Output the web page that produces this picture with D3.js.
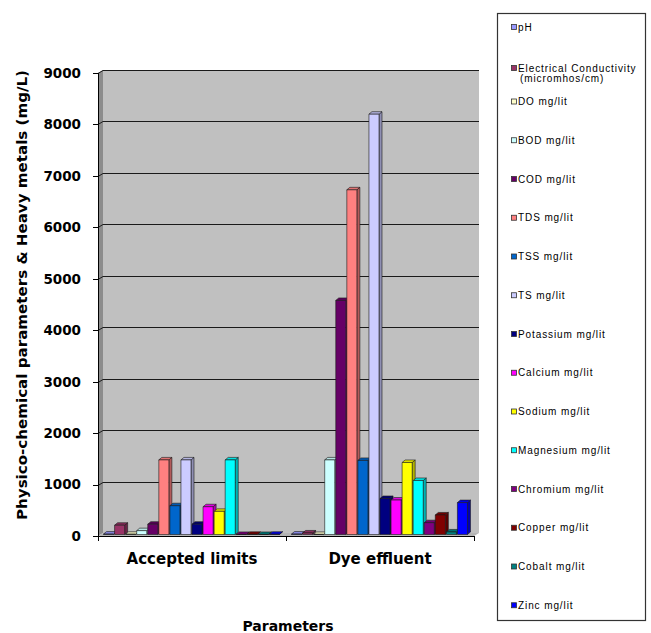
<!DOCTYPE html>
<html>
<head>
<meta charset="utf-8">
<script src="https://cdn.jsdelivr.net/npm/d3@7/dist/d3.min.js"></script>
<style>
  html, body { margin: 0; padding: 0; background: #ffffff; }
  svg { display: block; }
</style>
</head>
<body>
<svg id="chart" width="651" height="633"></svg>
<script>
// Categories on the x axis
const categories = ["Accepted limits", "Dye effluent"];

// One series per parameter (legend order = bar order inside a group)
const seriesNames = [
  "pH",
  "Electrical Conductivity\n(micromhos/cm)",
  "DO mg/lit",
  "BOD mg/lit",
  "COD mg/lit",
  "TDS mg/lit",
  "TSS mg/lit",
  "TS mg/lit",
  "Potassium mg/lit",
  "Calcium mg/lit",
  "Sodium mg/lit",
  "Magnesium mg/lit",
  "Chromium mg/lit",
  "Copper mg/lit",
  "Cobalt mg/lit",
  "Zinc mg/lit"
];

const seriesColors = [
  "#9999FF", "#993366", "#FFFFCC", "#CCFFFF", "#660066", "#FF8080",
  "#0066CC", "#CCCCFF", "#000080", "#FF00FF", "#FFFF00", "#00FFFF",
  "#800080", "#800000", "#008080", "#0000FF"
];

// Values per category, in series order
const acceptedValues = [8, 180, 5, 75, 200, 1450, 560, 1450, 200, 540, 450, 1450, 2, 3, 1, 5];
const effluentValues = [9, 30, 2, 1450, 4550, 6700, 1440, 8170, 700, 670, 1400, 1050, 230, 380, 50, 620];

const yTicks = [0, 1000, 2000, 3000, 4000, 5000, 6000, 7000, 8000, 9000];

const yTitle = "Physico-chemical parameters & Heavy metals (mg/L)";
const xTitle = "Parameters";

const svg = d3.select("#chart");

// ---- geometry of the 3-D box ----
const frontLeft = 98, frontRight = 474, frontBase = 536, frontTop = 73;
const depthX = 5, depthY = 3;       // offset of the back wall
const barDX = 3, barDY = 2.5;       // depth of each column

const y = d3.scaleLinear().domain([0, 9000]).range([frontBase, frontTop]);
const yBar = d3.scaleLinear().domain([0, 9000]).range([frontBase - 1.5, frontTop - 1.5]);

const x0 = d3.scaleBand().domain(categories).range([frontLeft, frontRight]).padding(0);
const x1 = d3.scaleBand().domain(d3.range(seriesNames.length))
  .range([0, x0.bandwidth()]).paddingInner(0).paddingOuter(0.5);

const wallTop = y(9000) - depthY;
const wallBottom = frontBase - depthY;

// back wall
svg.append("rect")
  .attr("x", frontLeft + depthX).attr("y", wallTop)
  .attr("width", frontRight - frontLeft).attr("height", wallBottom - wallTop)
  .attr("fill", "#C0C0C0");

// left side wall
svg.append("path")
  .attr("d", `M${frontLeft},${y(9000)} L${frontLeft + depthX},${wallTop} L${frontLeft + depthX},${wallBottom} L${frontLeft},${frontBase} Z`)
  .attr("fill", "#8C8C8C");

// floor
svg.append("path")
  .attr("d", `M${frontLeft},${frontBase} L${frontLeft + depthX},${wallBottom} L${frontRight + depthX},${wallBottom} L${frontRight},${frontBase} Z`)
  .attr("fill", "#B4B4B4");

// gridlines: back wall + side wall diagonal
const grid = svg.append("g").attr("stroke", "#1a1a1a").attr("stroke-width", 1).attr("fill", "none");
yTicks.forEach(t => {
  if (t === 0) return;
  const yf = Math.round(y(t)) + 0.5;
  grid.append("path")
    .attr("d", `M${frontLeft},${yf} L${frontLeft + depthX},${yf - depthY} L${frontRight + depthX},${yf - depthY}`);
});

// value axis line + ticks + labels
const yAxis = svg.append("g");
yAxis.append("line")
  .attr("x1", frontLeft + 0.5).attr("x2", frontLeft + 0.5)
  .attr("y1", y(9000)).attr("y2", frontBase)
  .attr("stroke", "#000").attr("stroke-width", 1);
yAxis.selectAll("line.tick").data(yTicks).join("line")
  .attr("class", "tick")
  .attr("x1", frontLeft - 5).attr("x2", frontLeft)
  .attr("y1", d => Math.round(y(d)) + 0.5).attr("y2", d => Math.round(y(d)) + 0.5)
  .attr("stroke", "#000");
yAxis.selectAll("text").data(yTicks).join("text")
  .attr("x", 81).attr("y", d => y(d))
  .attr("dy", "0.36em")
  .attr("text-anchor", "end")
  .attr("font-family", "DejaVu Sans")
  .attr("font-weight", "bold")
  .attr("font-size", "13.5px")
  .attr("fill", "#000")
  .text(d => d);

// ---- columns ----
const groups = [acceptedValues, effluentValues];
const barsG = svg.append("g");
categories.forEach((cat, ci) => {
  const vals = groups[ci];
  vals.forEach((v, si) => {
    const c = d3.color(seriesColors[si]);
    const xl = x0(cat) + x1(si);
    const w = x1.bandwidth() - 1;
    const yb = yBar(0), yt = yBar(v);
    const g = barsG.append("g")
      .attr("stroke", "#1a1a1a").attr("stroke-width", 0.6).attr("stroke-linejoin", "round");
    // right side face
    g.append("path")
      .attr("d", `M${xl + w},${yb} L${xl + w + barDX},${yb - barDY} L${xl + w + barDX},${yt - barDY} L${xl + w},${yt} Z`)
      .attr("fill", c.darker(1.0));
    // top face
    g.append("path")
      .attr("d", `M${xl},${yt} L${xl + barDX},${yt - barDY} L${xl + w + barDX},${yt - barDY} L${xl + w},${yt} Z`)
      .attr("fill", c.darker(0.35));
    // front face
    g.append("rect")
      .attr("x", xl).attr("y", yt)
      .attr("width", w).attr("height", Math.max(0, yb - yt))
      .attr("fill", c);
  });
});

// category axis
const xAxis = svg.append("g").attr("stroke", "#000");
xAxis.append("line")
  .attr("x1", frontLeft).attr("x2", frontRight)
  .attr("y1", frontBase + 0.5).attr("y2", frontBase + 0.5);
const catEdges = [x0(categories[0]), x0(categories[1]), x0(categories[1]) + x0.bandwidth()];
xAxis.selectAll("line.tick").data(catEdges).join("line")
  .attr("class", "tick")
  .attr("x1", d => d + 0.5).attr("x2", d => d + 0.5)
  .attr("y1", frontBase).attr("y2", frontBase + 5);

svg.append("g").selectAll("text").data(categories).join("text")
  .attr("x", d => x0(d) + x0.bandwidth() / 2)
  .attr("y", 564)
  .attr("text-anchor", "middle")
  .attr("font-family", "DejaVu Sans")
  .attr("font-weight", "bold")
  .attr("font-size", "15px")
  .attr("fill", "#000")
  .text(d => d);

// axis titles
svg.append("text")
  .attr("transform", `translate(27,295) rotate(-90)`)
  .attr("text-anchor", "middle")
  .attr("font-family", "DejaVu Sans")
  .attr("font-weight", "bold")
  .attr("font-size", "14px")
  .attr("textLength", 450)
  .attr("lengthAdjust", "spacingAndGlyphs")
  .attr("fill", "#000")
  .text(yTitle);

svg.append("text")
  .attr("x", 288).attr("y", 631)
  .attr("text-anchor", "middle")
  .attr("font-family", "DejaVu Sans")
  .attr("font-weight", "bold")
  .attr("font-size", "14px")
  .attr("fill", "#000")
  .text(xTitle);

// ---- legend ----
const legend = svg.append("g");
legend.append("rect")
  .attr("x", 497.5).attr("y", 13.5).attr("width", 148).attr("height", 607)
  .attr("fill", "#fff").attr("stroke", "#333").attr("stroke-width", 1.2);

const rowY = i => i === 0 ? 27 : (i === 1 ? 68 : 101.5 + (i - 2) * 38.75);
const items = legend.selectAll("g.item").data(seriesNames).join("g")
  .attr("class", "item")
  .attr("transform", (d, i) => `translate(0,${rowY(i)})`);
items.append("rect")
  .attr("x", 511.5).attr("y", -2.5).attr("width", 5).attr("height", 5)
  .attr("fill", (d, i) => seriesColors[i])
  .attr("stroke", "#333").attr("stroke-width", 0.8);
items.append("text")
  .attr("x", 518).attr("y", 0)
  .attr("font-family", "Liberation Sans")
  .attr("font-size", "10px")
  .attr("letter-spacing", "0.9px")
  .attr("fill", "#000")
  .each(function(d) {
    const lines = d.split("\n");
    const t = d3.select(this);
    lines.forEach((ln, k) => {
      t.append("tspan")
        .attr("x", k === 0 ? 518 : 520)
        .attr("dy", k === 0 ? "0.35em" : "1.0em")
        .text(ln);
    });
  });
</script>
</body>
</html>
